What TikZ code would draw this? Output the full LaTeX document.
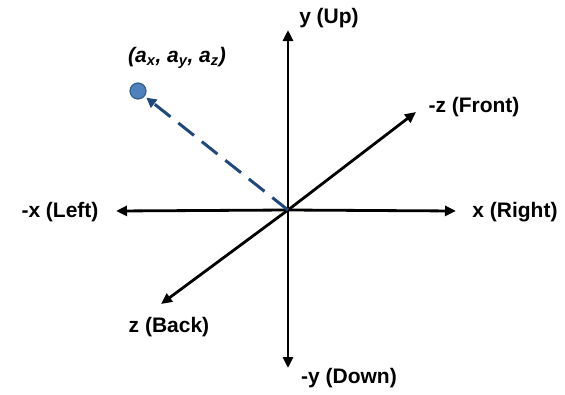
\documentclass[tikz,border=0pt]{standalone}
\usepackage{fontspec}
\setmainfont{Liberation Sans}
\usetikzlibrary{arrows.meta}
\definecolor{dotfill}{HTML}{4F81BD}
\definecolor{dotline}{HTML}{385D8A}
\definecolor{vecblue}{HTML}{1F497D}
\begin{document}
\begin{tikzpicture}[x=1pt,y=-1pt,
  axis/.style={line width=2.8pt,-{Triangle[length=11pt,width=10pt]}},
  lbl/.style={font=\fontsize{21}{24}\selectfont\bfseries, inner sep=0pt},
  vec/.style={vecblue,line width=3pt,dash pattern=on 20pt off 10pt,-{Triangle[length=10pt,width=10pt]},shorten >=2pt},
  dot/.style={circle,draw=dotline,fill=dotfill,line width=1.2pt,minimum size=16pt,inner sep=0pt}]
\useasboundingbox (0,0) rectangle (565,394);
\coordinate (O) at (288,210);
\coordinate (xpos) at (456,211);
\coordinate (xneg) at (116,211);
\coordinate (ypos) at (288,30);
\coordinate (yneg) at (288,368);
\coordinate (zneg) at (416,112);
\coordinate (zpos) at (161,304);
\draw[axis] (O) -- (xpos);
\draw[axis] (O) -- (xneg);
\draw[axis] (O) -- (ypos);
\draw[axis] (O) -- (yneg);
\draw[axis] (O) -- (zneg);
\draw[axis] (O) -- (zpos);
\node[lbl] (lx) at (515,212) {x (Right)};
\node[lbl] (lmx) at (60,212) {-x (Left)};
\node[lbl] (ly) at (329,18) {y (Up)};
\node[lbl] (lmy) at (349,378) {-y (Down)};
\node[lbl] (lmz) at (474,107) {-z (Front)};
\node[lbl] (lz) at (169,327) {z (Back)};
\node[dot] (P) at (138,91) {};
\node[lbl,font=\fontsize{21}{24}\selectfont\bfseries\itshape] (lp) at (177,58) {(a\textsubscript{x}, a\textsubscript{y}, a\textsubscript{z})};
\draw[vec] (O) -- (P);
\end{tikzpicture}
\end{document}
